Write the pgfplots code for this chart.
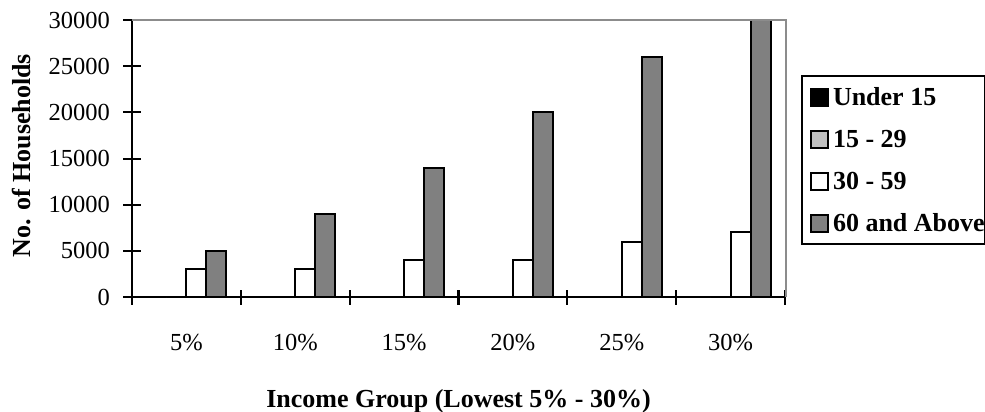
\documentclass[border=0pt]{standalone}
\usepackage{pgfplots}
\pgfplotsset{compat=1.18}
\usepackage{fontspec}
\setmainfont{Liberation Serif}

\definecolor{barlight}{HTML}{C0C0C0}
\definecolor{bardark}{HTML}{808080}
\definecolor{framegray}{HTML}{8C8C8C}

\pgfplotstableread{
grp under fifteen thirty sixty
1   0     0       3000   5000
2   0     0       3000   9000
3   0     0       4000   14000
4   0     0       4000   20000
5   0     0       6000   26000
6   0     0       7000   30000
}\households

\begin{document}
\begin{tikzpicture}[x=1bp,y=1bp]
\begin{axis}[
  at={(0,0)}, anchor=south west,
  scale only axis,
  width=653bp, height=277bp,
  ybar=0pt, bar width=20bp,
  xmin=0.5, xmax=6.5,
  ymin=0, ymax=30000,
  clip=false,
  axis x line*=bottom, axis y line*=left,
  axis line style={black, line width=2bp},
  xtick={1,...,6},
  xticklabels={5\%,10\%,15\%,20\%,25\%,30\%},
  minor xtick={0.5,1.5,...,6.5},
  ytick={0,5000,...,30000},
  scaled y ticks=false,
  yticklabel={\pgfmathprintnumber[fixed,1000 sep={}]{\tick}},
  tick align=center,
  major tick length=17bp,
  minor tick length=15bp,
  major x tick style={draw=none},
  tick style={black, line width=2bp},
  /pgf/number format/assume math mode=true,
  tick label style={font=\fontsize{24.5bp}{29bp}\selectfont},
  yticklabel style={inner sep=0pt, xshift=-13.5bp},
  xticklabel style={anchor=base, inner sep=0pt, yshift=-45bp},
  xlabel={\textbf{Income Group (Lowest 5\% - 30\%)}},
  ylabel={\textbf{No. of Households}},
  every axis x label/.style={at={(axis description cs:0.5,0)}, anchor=base, yshift=-110bp,
    font=\fontsize{26bp}{31bp}\selectfont},
  every axis y label/.style={at={(axis description cs:-0.1685,0.51)}, anchor=center, rotate=90,
    font=\fontsize{26bp}{31bp}\selectfont},
  legend style={
    at={(rel axis cs:1.0245,0.801)}, anchor=north west,
    draw=black, line width=2bp,
    inner sep=0pt, row sep=0pt, column sep=0pt,
    font=\fontsize{26bp}{31bp}\bfseries\selectfont,
    nodes={inner xsep=0bp, inner ysep=0bp, text height=29bp, text depth=13bp, anchor=base west},
  },
  legend cell align=left,
  legend image code/.code={\draw[#1, line width=1.6bp] (9bp,-1bp) rectangle (26bp,16bp);
    \path[draw=none, fill=none] (0bp,0bp) -- (31bp,0bp);},
]
\addplot[fill=black, draw=black, line width=2bp] table[x=grp, y=under] {\households};
\addlegendentry{Under 15}
\addplot[fill=barlight, draw=black, line width=2bp] table[x=grp, y=fifteen] {\households};
\addlegendentry{15 - 29}
\addplot[fill=white, draw=black, line width=2bp] table[x=grp, y=thirty] {\households};
\addlegendentry{30 - 59}
\addplot[fill=bardark, draw=black, line width=2bp] table[x=grp, y=sixty] {\households};
\addlegendentry{60 and Above}
% frame along the top and right of the plot area
\draw[framegray, line width=1.5bp] (rel axis cs:0,1) -- (rel axis cs:1.0015,1) -- (rel axis cs:1.0015,0);
\end{axis}
\pgfresetboundingbox
\useasboundingbox (-132bp,-115bp) rectangle (853bp,297bp);
\end{tikzpicture}
\end{document}
